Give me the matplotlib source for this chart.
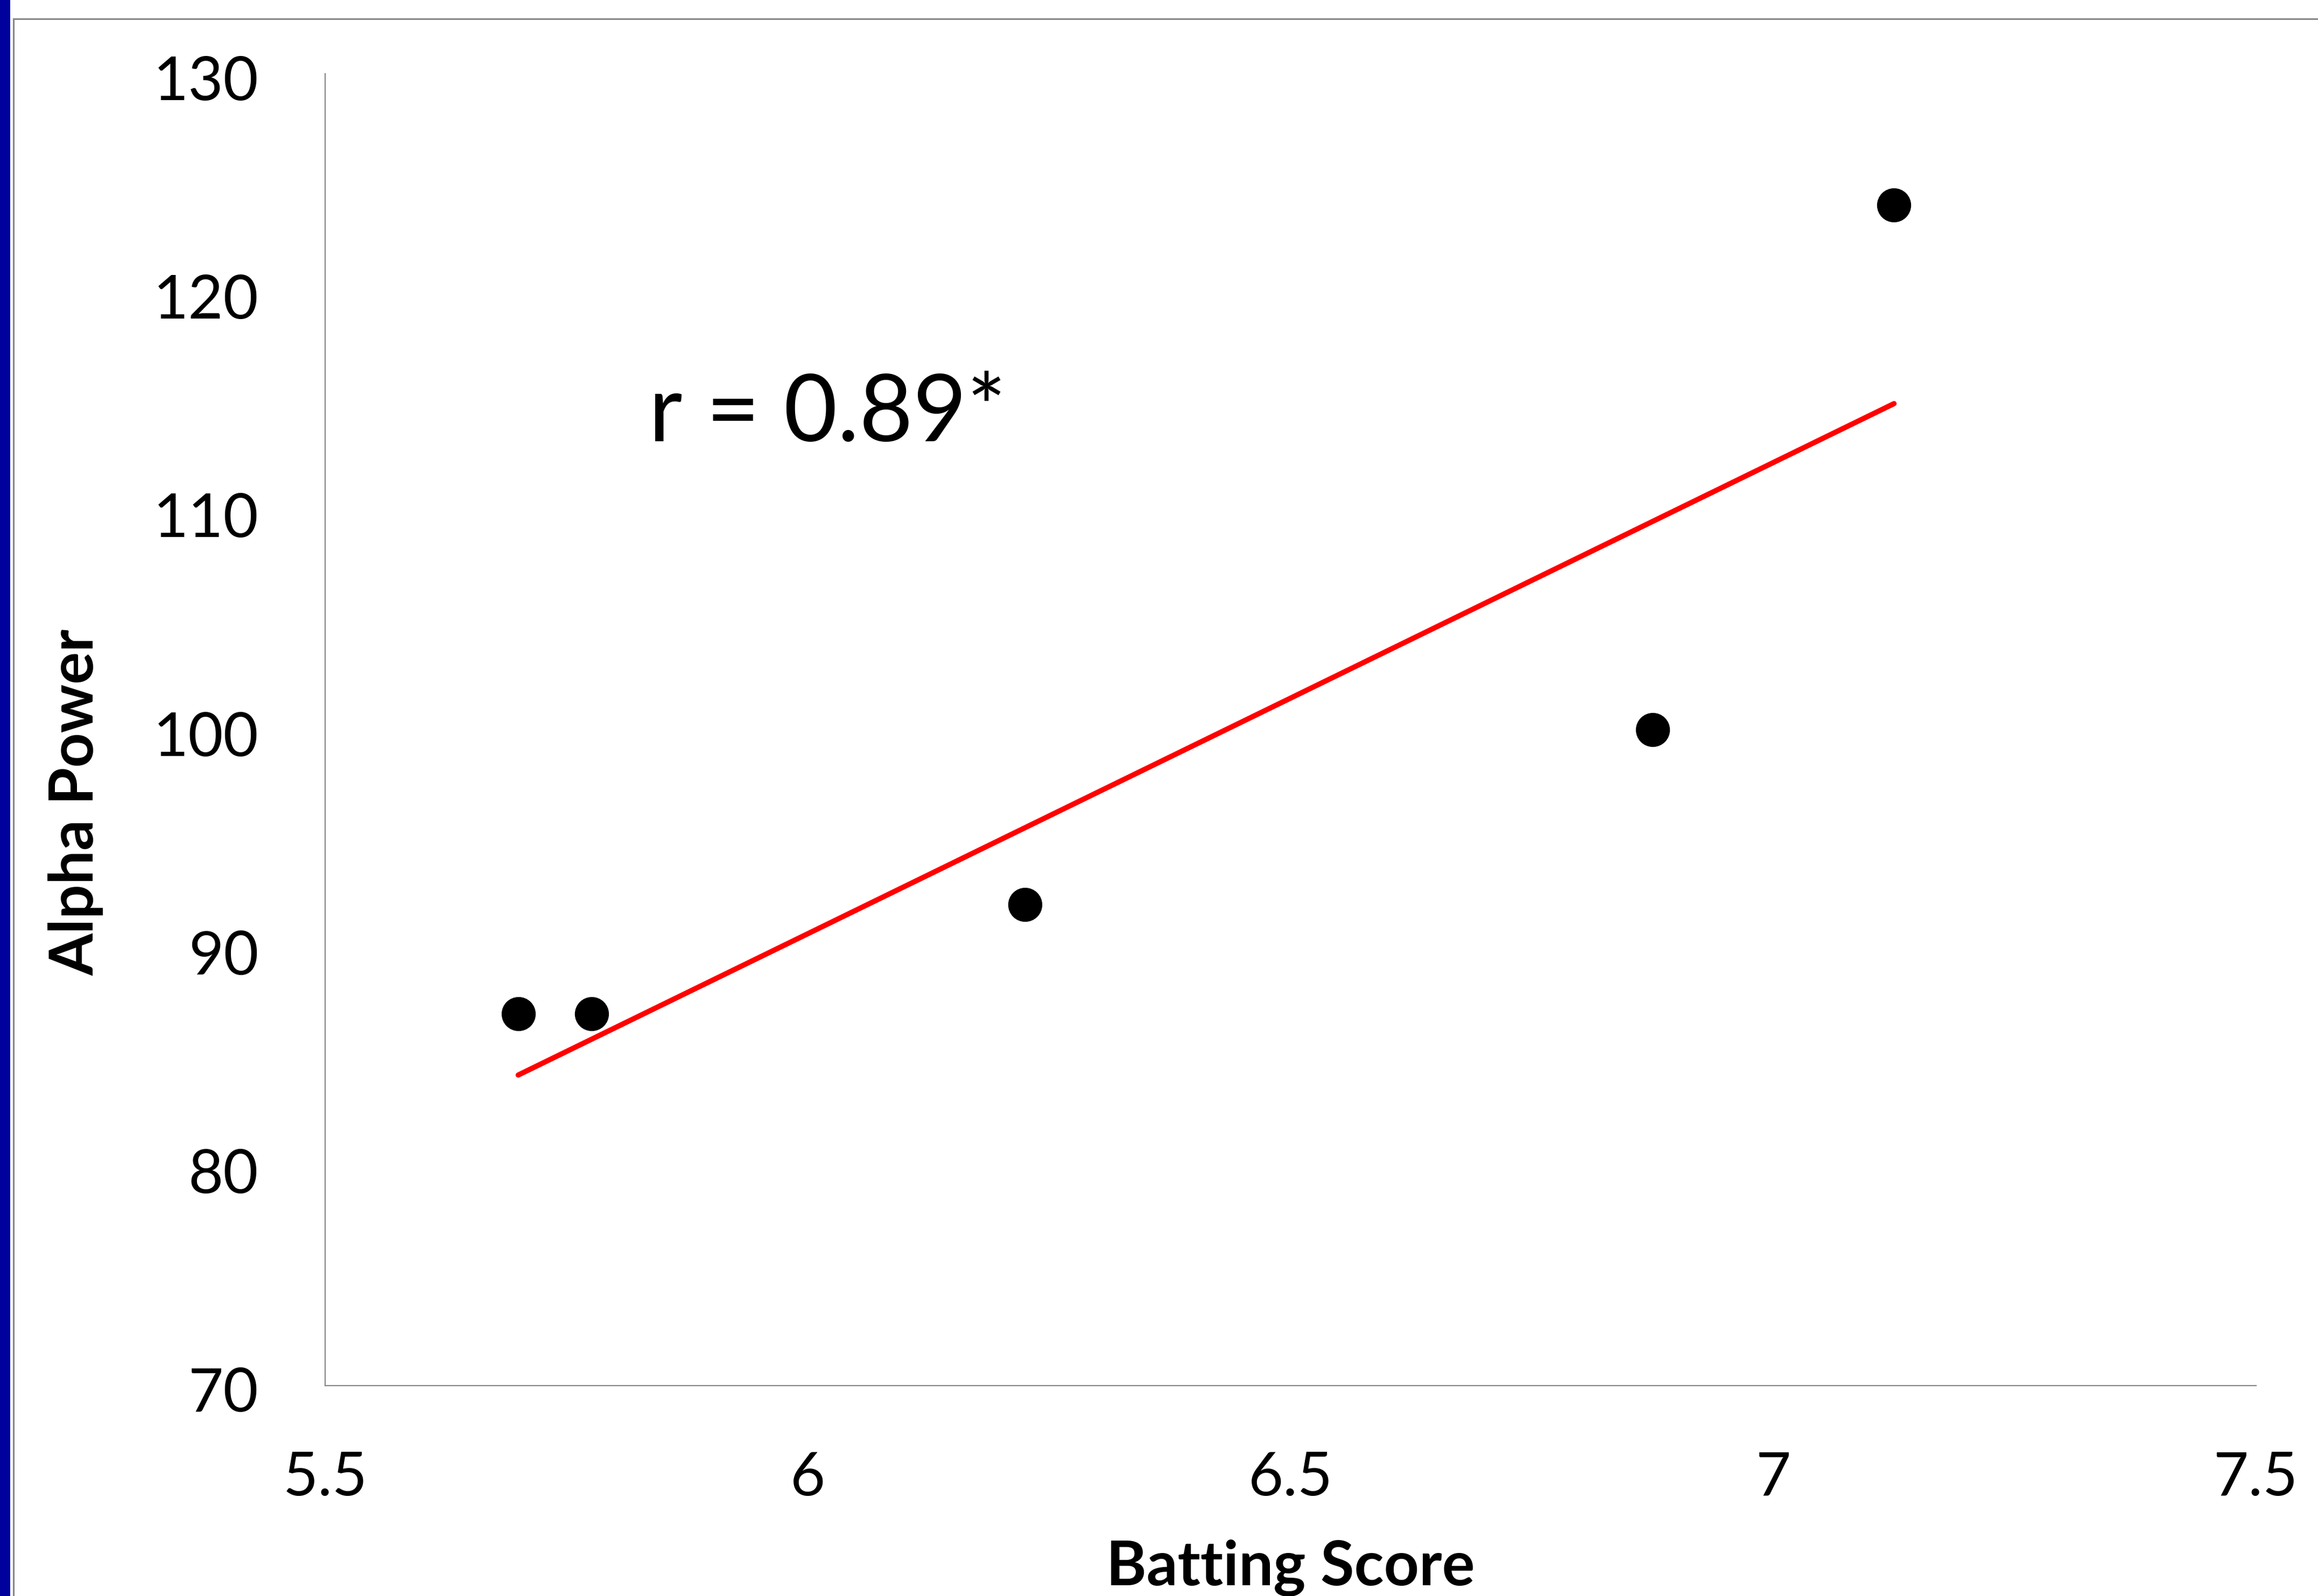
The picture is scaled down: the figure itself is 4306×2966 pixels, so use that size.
import numpy as np
import matplotlib
matplotlib.use("Agg")
import matplotlib.pyplot as plt
from matplotlib.lines import Line2D
from matplotlib.patches import Rectangle
from matplotlib.transforms import ScaledTranslation

# ---- data ----
batting_score = [5.70, 5.776, 6.225, 6.875, 7.125]
alpha_power = [87, 87, 92, 100, 124]
x_ticks = [5.5, 6, 6.5, 7, 7.5]
x_tick_labels = ["5.5", "6", "6.5", "7", "7.5"]
y_ticks = [70, 80, 90, 100, 110, 120, 130]
y_tick_labels = ["70", "80", "90", "100", "110", "120", "130"]
r_label = "r = 0.89*"
x_label = "Batting Score"
y_label = "Alpha Power"

W, H = 4306, 2966
DPI = 100
plt.rcParams['font.family'] = ['Lato', 'DejaVu Sans']

fig = plt.figure(figsize=(W / DPI, H / DPI), dpi=DPI)
fig.patch.set_facecolor('white')

# slide decorations: blue bar on the left and grey frame
fig.add_artist(Rectangle((0, 0), 19 / W, 1, transform=fig.transFigure,
                         facecolor='#00009C', edgecolor='none'))
fig.add_artist(Line2D([25 / W, 25 / W], [0, 1 - 35 / H], transform=fig.transFigure,
                      color='#888888', lw=2.2))
fig.add_artist(Line2D([25 / W, 1], [1 - 35 / H, 1 - 35 / H], transform=fig.transFigure,
                      color='#888888', lw=2.2))

ax = fig.add_axes([604 / W, 1 - 2575 / H, (4191 - 604) / W, (2575 - 137) / H])
ax.set_xlim(5.5, 7.5)
ax.set_ylim(70, 130)

for s in ['top', 'right']:
    ax.spines[s].set_visible(False)
for s in ['left', 'bottom']:
    ax.spines[s].set_color('#888888')
    ax.spines[s].set_linewidth(1.6)

ax.set_xticks(x_ticks)
ax.set_xticklabels(x_tick_labels)
ax.set_yticks(y_ticks)
ax.set_yticklabels(y_tick_labels)
ax.tick_params(axis='x', length=0, pad=87, labelsize=81, colors='black')
ax.tick_params(axis='y', length=0, pad=89, labelsize=81, colors='black')
off = ScaledTranslation(0, -7 / DPI, fig.dpi_scale_trans)
for lab in ax.get_yticklabels():
    lab.set_transform(lab.get_transform() + off)

# regression line
xs = np.array(batting_score)
ys = np.array(alpha_power)
slope, intercept = np.polyfit(xs, ys, 1)
xl = np.array([xs.min(), xs.max()])
ax.plot(xl, slope * xl + intercept, color='#FF0000', lw=7, solid_capstyle='round', zorder=2)

ax.plot(batting_score, alpha_power, linestyle='none', marker='o', markersize=44.6,
        markerfacecolor='black', markeredgecolor='black', zorder=3, clip_on=False)

ax.text(5.835, 113.2, r_label, fontsize=124, color='black', ha='left', va='baseline')

fig.text(2397 / W, 1 - 2946 / H, x_label, fontsize=82, fontweight='bold',
         ha='center', va='baseline')
fig.text(141 / W, 1 - 1491 / H, y_label, fontsize=81, fontweight='bold',
         rotation=90, ha='center', va='center')

fig.savefig('out.png', dpi=DPI, facecolor='white')
